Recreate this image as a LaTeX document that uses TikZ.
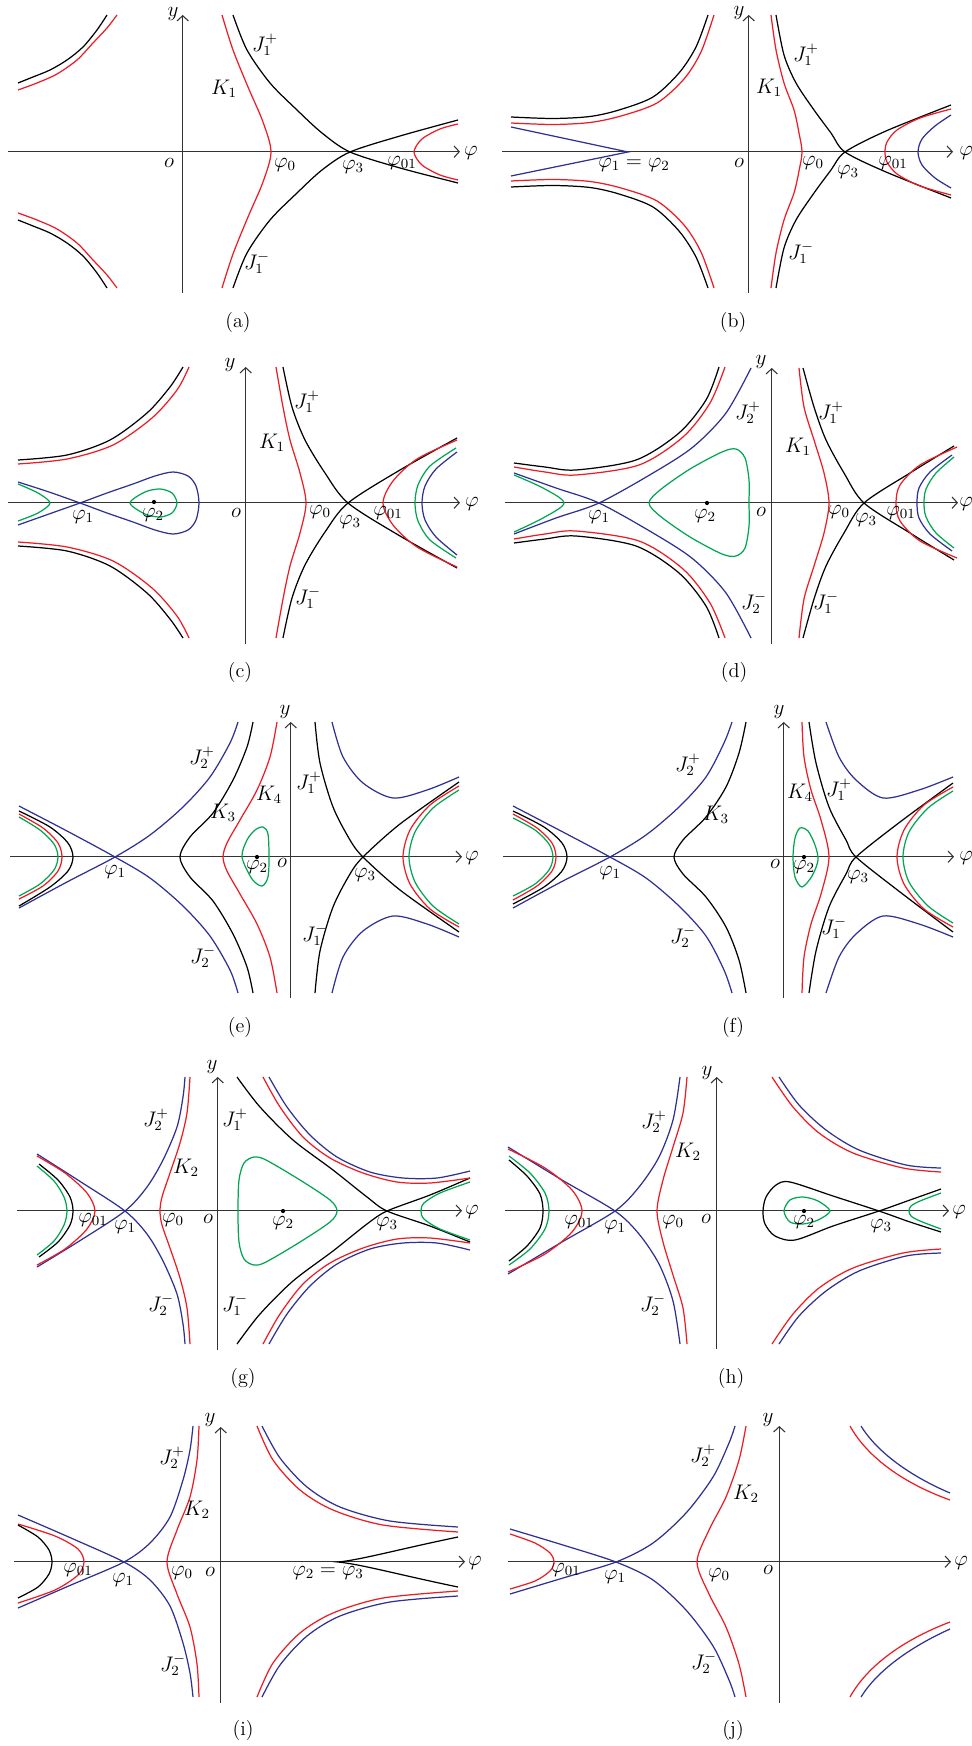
\documentclass[tikz,border=0pt]{standalone}
\usepackage{tikz}
\usepackage{xcolor}
\definecolor{curvered}{HTML}{ED1C24}
\definecolor{curveblue}{HTML}{2E3192}
\definecolor{curvegreen}{HTML}{00A651}
\definecolor{axisgray}{HTML}{333333}
\usetikzlibrary{arrows.meta}

\begin{document}
\begin{tikzpicture}[
        x=0.02cm, y=-0.02cm,
        font=\fontsize{11.5}{14}\selectfont,
        axis_line/.style={
            draw=axisgray,
            line width=0.6pt,
            -{Straight Barb[length=3pt, width=6.5pt, line width=0.6pt]}
        },
        curve_black/.style={draw=black, line width=0.7pt},
        curve_red/.style={draw=curvered, line width=0.7pt},
        curve_blue/.style={draw=curveblue, line width=0.7pt},
        curve_green/.style={draw=curvegreen, line width=0.7pt},
        lbl/.style={inner sep=0pt},
        fixed_pt/.style={circle, fill=black, inner sep=0pt, minimum size=2.4pt}
    ]
    \useasboundingbox (0,0) rectangle (972,1746);

    % Panel (a)
    \draw[axis_line] (8,151.7) -- (460,151.7);
    \draw[axis_line] (182.7,293) -- (182.7,15);
    \draw[curve_black] plot[smooth] coordinates {(18,83) (33,77) (50,70) (67,60) (83,47) (97,30) (107,15)};
    \draw[curve_red] plot[smooth] coordinates {(18,90) (37,83) (57,74) (77,60) (93,43) (107,28) (117,15)};
    \draw[curve_black] plot[smooth] coordinates {(18,220) (33,226) (50,233) (67,243) (83,256) (97,273) (107,288)};
    \draw[curve_red] plot[smooth] coordinates {(18,213) (37,220) (57,229) (77,243) (93,260) (107,275) (117,288)};
    \draw[curve_red] plot[smooth] coordinates {(222,15) (233,50) (248,87) (263,122) (271,152) (263,182) (248,217) (233,254) (222,288)};
    \draw[curve_black] plot[smooth] coordinates {(233,15) (247,50) (270,83) (297,110) (322,133) (350,152) (400,168) (458,183)};
    \draw[curve_black] plot[smooth] coordinates {(233,288) (247,253) (270,220) (297,193) (322,170) (350,152) (400,136) (458,120)};
    \draw[curve_red] plot[smooth] coordinates {(458,124) (440,129) (422,139) (414,152) (422,165) (440,175) (458,180)};
    \node[lbl] (a-y) at (173,14) {$y$};
    \node[lbl] (a-phi) at (471,153) {$\varphi$};
    \node[lbl] (a-o) at (169,163) {$o$};
    \node[lbl] (a-phi0) at (285,165) {$\varphi_0$};
    \node[lbl] (a-phi3) at (353,167) {$\varphi_3$};
    \node[lbl] (a-phi01) at (402,163) {$\varphi_{01}$};
    \node[lbl] (a-K1) at (224,89) {$K_1$};
    \node[lbl] (a-J1p) at (265,45) {$J_1^+$};
    \node[lbl] (a-J1m) at (257,263) {$J_1^-$};
    \node[lbl] (a-tag) at (238,322) {(a)};

    % Panel (b)
    \draw[axis_line] (502,151.7) -- (953,151.7);
    \draw[axis_line] (748.7,293) -- (748.7,15);
    \draw[curve_black] plot[smooth] coordinates {(511,117) (553,118.5) (590,116.5) (619,110) (653,97) (679,73) (696,47) (708,15)};
    \draw[curve_red] plot[smooth] coordinates {(511,123) (553,124.5) (590,122.5) (621,116) (657,103) (684,79) (701,52) (714,15)};
    \draw[curve_black] plot[smooth] coordinates {(511,187) (553,185.5) (590,187.5) (619,194) (653,207) (679,231) (696,257) (708,288)};
    \draw[curve_red] plot[smooth] coordinates {(511,181) (553,179.5) (590,181.5) (621,188) (657,201) (684,225) (701,252) (714,288)};
    \draw[curve_blue] (511,127) -- (628,152) -- (511,176);
    \draw[curve_red] plot[smooth] coordinates {(771,15) (776,50) (784,83) (794,110) (799,133) (802,152) (799,171) (794,193) (784,220) (776,253) (771,288)};
    \draw[curve_black] plot[smooth] coordinates {(776,15) (784,55) (796,83) (814,110) (831,133) (845,152) (886,172) (951,198)};
    \draw[curve_black] plot[smooth] coordinates {(776,288) (784,248) (796,220) (814,193) (831,170) (845,152) (886,131) (951,105)};
    \draw[curve_red] plot[smooth] coordinates {(951,109) (920,118) (897,130) (887,142) (885,152) (887,162) (897,174) (920,186) (951,195)};
    \draw[curve_blue] plot[smooth] coordinates {(951,115) (935,126) (922,139) (918,152) (922,165) (935,178) (951,188)};
    \node[lbl] (b-y) at (739,13) {$y$};
    \node[lbl] (b-phi) at (966,153) {$\varphi$};
    \node[lbl] (b-o) at (739,163) {$o$};
    \node[lbl] (b-phi0) at (813,163) {$\varphi_0$};
    \node[lbl] (b-phi3) at (848,172) {$\varphi_3$};
    \node[lbl] (b-phi01) at (893,163) {$\varphi_{01}$};
    \node[lbl] (b-K1) at (769,88) {$K_1$};
    \node[lbl] (b-J1p) at (806,55) {$J_1^+$};
    \node[lbl] (b-J1m) at (801,253) {$J_1^-$};
    \node[lbl] (b-phi12) at (634,165) {$\varphi_1 = \varphi_2$};
    \node[lbl] (b-tag) at (733,322) {(b)};

    % Panel (c)
    \draw[axis_line] (8,502.7) -- (460,502.7);
    \draw[axis_line] (245.7,644) -- (245.7,367);
    \draw[curve_black] plot[smooth] coordinates {(18,460) (67,455) (110,440) (147,413) (170,387) (183,367)};
    \draw[curve_red] plot[smooth] coordinates {(18,464) (67,459) (113,445) (152,418) (177,390) (189,367)};
    \draw[curve_black] plot[smooth] coordinates {(18,546) (67,551) (110,566) (147,593) (170,619) (183,638)};
    \draw[curve_red] plot[smooth] coordinates {(18,542) (67,547) (113,561) (152,588) (177,616) (189,638)};
    \draw[curve_blue] plot[smooth] coordinates {(18,482) (49,492) (80,503) (107,513) (133,522) (155,530) (173,534) (188,530) (196,520) (199,503) (196,486) (188,476) (173,472) (155,476) (133,484) (107,493) (80,503) (49,514) (18,525)};
    \draw[curve_green] plot[smooth] coordinates {(18,484) (38,493) (50,503) (38,513) (18,521)};
    \draw[curve_green] plot[smooth cycle] coordinates {(130,503) (145,492) (160,489) (172,493) (177,503) (172,513) (160,517) (145,514)};
    \node[fixed_pt] (c-pt2) at (154,502) {};
    \draw[curve_red] plot[smooth] coordinates {(276,367) (283,407) (290,440) (300,473) (306,503) (300,533) (290,566) (283,599) (276,638)};
    \draw[curve_black] plot[smooth] coordinates {(283,367) (292,407) (305,440) (325,473) (348,503) (400,536) (457,568)};
    \draw[curve_black] plot[smooth] coordinates {(283,638) (292,598) (305,565) (325,532) (348,503) (400,470) (457,438)};
    \draw[curve_red] plot[smooth] coordinates {(457,440) (417,459) (393,481) (383,503) (393,525) (417,547) (457,567)};
    \draw[curve_green] plot[smooth] coordinates {(456,448) (430,466) (418,485) (415,503) (418,521) (430,540) (456,558)};
    \draw[curve_blue] plot[smooth] coordinates {(457,452) (436,469) (425,486) (422,503) (425,520) (436,537) (457,555)};
    \node[lbl] (c-y) at (230,365) {$y$};
    \node[lbl] (c-phi) at (472,504) {$\varphi$};
    \node[lbl] (c-o) at (236,513) {$o$};
    \node[lbl] (c-J1p) at (307,402) {$J_1^+$};
    \node[lbl] (c-K1) at (272,443) {$K_1$};
    \node[lbl] (c-J1m) at (308,598) {$J_1^-$};
    \node[lbl] (c-phi0) at (320,512) {$\varphi_0$};
    \node[lbl] (c-phi3) at (350,522) {$\varphi_3$};
    \node[lbl] (c-phi01) at (388,513) {$\varphi_{01}$};
    \node[lbl] (c-phi1) at (83,517) {$\varphi_1$};
    \node[lbl] (c-phi2) at (153,515) {$\varphi_2$};
    \node[lbl] (c-tag) at (240,672) {(c)};

    % Panel (d)
    \draw[axis_line] (505,502.7) -- (958,502.7);
    \draw[axis_line] (771.7,644) -- (771.7,368);
    \draw[curve_black] plot[smooth] coordinates {(514,463) (545,467) (576,470) (636,460) (679,433) (706,400) (719,367)};
    \draw[curve_red] plot[smooth] coordinates {(514,467) (545,472) (576,475) (639,465) (683,437) (710,403) (725,367)};
    \draw[curve_black] plot[smooth] coordinates {(514,543) (545,539) (576,536) (636,546) (679,573) (706,606) (719,638)};
    \draw[curve_red] plot[smooth] coordinates {(514,539) (545,534) (576,531) (639,541) (683,569) (710,603) (725,638)};
    \draw[curve_blue] plot[smooth] coordinates {(514,473) (556,488) (599,503) (653,533) (693,559) (726,593) (751,638)};
    \draw[curve_blue] plot[smooth] coordinates {(514,534) (556,518) (599,503) (653,473) (693,447) (726,413) (751,368)};
    \draw[curve_green] plot[smooth] coordinates {(514,475) (543,488) (564,503) (543,518) (514,532)};
    \draw[curve_green] plot[smooth cycle] coordinates {(649,503) (660,490) (690,469) (722,452) (736,449) (745,458) (749,480) (749,503) (749,526) (745,548) (736,556) (722,554) (690,537) (660,516)};
    \node[fixed_pt] (d-pt2) at (707,503) {};
    \draw[curve_red] plot[smooth] coordinates {(799,368) (804,407) (814,440) (824,473) (829,503) (824,533) (814,566) (804,599) (799,638)};
    \draw[curve_black] plot[smooth] coordinates {(803,368) (814,407) (826,440) (844,473) (864,503) (910,533) (954,560)};
    \draw[curve_black] plot[smooth] coordinates {(803,638) (814,599) (826,566) (844,533) (864,503) (910,473) (954,446)};
    \draw[curve_red] plot[smooth] coordinates {(957,447) (920,465) (900,485) (896,503) (900,521) (920,541) (957,558)};
    \draw[curve_blue] plot[smooth] coordinates {(952,455) (930,472) (919,488) (917,503) (919,518) (930,534) (952,551)};
    \draw[curve_green] plot[smooth] coordinates {(954,457) (936,473) (926,489) (924,503) (926,517) (936,533) (954,548)};
    \node[lbl] (d-y) at (761,362) {$y$};
    \node[lbl] (d-phi) at (966,504) {$\varphi$};
    \node[lbl] (d-o) at (761,512) {$o$};
    \node[lbl] (d-J2p) at (748,413) {$J_2^+$};
    \node[lbl] (d-J1p) at (831,413) {$J_1^+$};
    \node[lbl] (d-K1) at (798,447) {$K_1$};
    \node[lbl] (d-J2m) at (754,603) {$J_2^-$};
    \node[lbl] (d-J1m) at (826,603) {$J_1^-$};
    \node[lbl] (d-phi1) at (599,517) {$\varphi_1$};
    \node[lbl] (d-phi2) at (705,516) {$\varphi_2$};
    \node[lbl] (d-phi0) at (839,512) {$\varphi_0$};
    \node[lbl] (d-phi3) at (866,520) {$\varphi_3$};
    \node[lbl] (d-phi01) at (901,513) {$\varphi_{01}$};
    \node[lbl] (d-tag) at (734,672) {(d)};

    % Panel (e)
    \draw[axis_line] (10,856.7) -- (462,856.7);
    \draw[axis_line] (290.7,998) -- (290.7,722);
    \draw[curve_blue] plot[smooth] coordinates {(19,806) (67,831) (115,857) (150,878) (183,906) (210,936) (230,970) (238,993)};
    \draw[curve_blue] plot[smooth] coordinates {(19,908) (67,882) (115,857) (150,835) (183,807) (210,777) (230,743) (238,722)};
    \draw[curve_black] plot[smooth] coordinates {(19,811) (50,827) (68,843) (73,857) (68,871) (50,887) (19,906)};
    \draw[curve_red] plot[smooth] coordinates {(19,814) (43,828) (58,843) (62,857) (58,871) (43,886) (19,899)};
    \draw[curve_green] plot[smooth] coordinates {(19,817) (40,830) (54,844) (58,857) (54,870) (40,884) (19,896)};
    \draw[curve_black] plot[smooth] coordinates {(253,722) (247,747) (233,780) (213,813) (190,837) (180,857) (190,877) (213,901) (233,934) (247,967) (253,993)};
    \draw[curve_red] plot[smooth] coordinates {(277,722) (270,757) (257,790) (240,820) (227,843) (223,857) (227,871) (240,894) (257,924) (270,957) (277,993)};
    \draw[curve_green] plot[smooth cycle] coordinates {(242,857) (247,840) (255,830) (263,827) (268,834) (269,857) (268,877) (262,886) (252,879)};
    \node[fixed_pt] (e-pt2) at (257,857) {};
    \draw[curve_black] plot[smooth] coordinates {(315,722) (320,763) (333,807) (350,840) (363,857) (400,890) (459,932)};
    \draw[curve_black] plot[smooth] coordinates {(315,993) (320,951) (333,907) (350,874) (363,857) (400,824) (459,782)};
    \draw[curve_blue] plot[smooth] coordinates {(332,722) (343,757) (363,783) (393,798) (427,790) (459,777)};
    \draw[curve_blue] plot[smooth] coordinates {(332,993) (343,957) (363,931) (393,916) (427,924) (459,937)};
    \draw[curve_red] plot[smooth] coordinates {(459,786) (430,805) (410,830) (403,857) (410,884) (430,909) (459,927)};
    \draw[curve_green] plot[smooth] coordinates {(459,790) (433,808) (415,832) (409,857) (415,882) (433,906) (459,924)};
    \node[lbl] (e-y) at (285,712) {$y$};
    \node[lbl] (e-phi) at (472,858) {$\varphi$};
    \node[lbl] (e-o) at (282,863) {$o$};
    \node[lbl] (e-J2p) at (202,758) {$J_2^+$};
    \node[lbl] (e-K3) at (223,813) {$K_3$};
    \node[lbl] (e-K4) at (269,795) {$K_4$};
    \node[lbl] (e-J1p) at (309,783) {$J_1^+$};
    \node[lbl] (e-phi1) at (115,872) {$\varphi_1$};
    \node[lbl] (e-phi2) at (257,867) {$\varphi_2$};
    \node[lbl] (e-phi3) at (365,875) {$\varphi_3$};
    \node[lbl] (e-J2m) at (203,957) {$J_2^-$};
    \node[lbl] (e-J1m) at (315,935) {$J_1^-$};
    \node[lbl] (e-tag) at (240,1027) {(e)};

    % Panel (f)
    \draw[axis_line] (503,856.7) -- (954,856.7);
    \draw[axis_line] (783.7,998) -- (783.7,722);
    \draw[curve_blue] plot[smooth] coordinates {(513,806) (561,831) (610,857) (646,878) (679,906) (706,936) (724,970) (732,993)};
    \draw[curve_blue] plot[smooth] coordinates {(513,908) (561,882) (610,857) (646,835) (679,807) (706,777) (724,743) (732,722)};
    \draw[curve_black] plot[smooth] coordinates {(513,811) (544,827) (562,843) (567,857) (562,871) (544,887) (513,904)};
    \draw[curve_red] plot[smooth] coordinates {(513,814) (537,828) (552,843) (556,857) (552,871) (537,886) (513,900)};
    \draw[curve_green] plot[smooth] coordinates {(513,818) (535,830) (549,844) (553,857) (549,870) (535,884) (513,896)};
    \draw[curve_black] plot[smooth] coordinates {(746,722) (739,753) (726,787) (706,817) (683,840) (674,857) (683,874) (706,897) (726,927) (739,960) (746,993)};
    \draw[curve_green] plot[smooth cycle] coordinates {(793,857) (795,838) (800,828) (808,831) (815,845) (818,860) (812,876) (802,887) (795,877)};
    \node[fixed_pt] (f-pt2) at (804,857) {};
    \draw[curve_red] plot[smooth] coordinates {(802,722) (804,757) (811,790) (821,820) (829,857) (821,894) (811,924) (804,957) (802,993)};
    \draw[curve_black] plot[smooth] coordinates {(809,722) (816,763) (829,807) (846,840) (856,857) (900,892) (953,932)};
    \draw[curve_black] plot[smooth] coordinates {(809,993) (816,951) (829,907) (846,874) (856,857) (900,822) (953,783)};
    \draw[curve_blue] plot[smooth] coordinates {(826,722) (839,757) (856,780) (883,798) (919,790) (953,777)};
    \draw[curve_blue] plot[smooth] coordinates {(826,993) (839,957) (856,934) (883,916) (919,924) (953,937)};
    \draw[curve_red] plot[smooth] coordinates {(953,787) (924,805) (904,830) (897,857) (904,884) (924,909) (953,927)};
    \draw[curve_green] plot[smooth] coordinates {(953,791) (928,808) (909,832) (903,857) (909,882) (928,906) (953,923)};
    \node[lbl] (f-y) at (779,712) {$y$};
    \node[lbl] (f-phi) at (966,858) {$\varphi$};
    \node[lbl] (f-o) at (775,864) {$o$};
    \node[lbl] (f-J2p) at (688,765) {$J_2^+$};
    \node[lbl] (f-K3) at (716,815) {$K_3$};
    \node[lbl] (f-K4) at (800,793) {$K_4$};
    \node[lbl] (f-J1p) at (839,790) {$J_1^+$};
    \node[lbl] (f-phi1) at (610,873) {$\varphi_1$};
    \node[lbl] (f-phi2) at (804,867) {$\varphi_2$};
    \node[lbl] (f-phi3) at (858,877) {$\varphi_3$};
    \node[lbl] (f-J2m) at (683,937) {$J_2^-$};
    \node[lbl] (f-J1m) at (834,928) {$J_1^-$};
    \node[lbl] (f-tag) at (733,1027) {(f)};

    % Panel (g)
    \draw[axis_line] (17,1210.7) -- (462,1210.7);
    \draw[axis_line] (217.7,1350) -- (217.7,1077);
    \draw[curve_blue] plot[smooth] coordinates {(37,1154) (81,1182) (125,1211) (147,1234) (163,1261) (177,1294) (183,1324) (185,1344)};
    \draw[curve_blue] plot[smooth] coordinates {(37,1267) (81,1240) (125,1211) (147,1187) (163,1160) (177,1127) (183,1097) (185,1077)};
    \draw[curve_red] plot[smooth] coordinates {(190,1077) (187,1113) (180,1143) (170,1173) (162,1197) (160,1211) (162,1225) (170,1248) (180,1278) (187,1308) (190,1344)};
    \draw[curve_red] plot[smooth] coordinates {(37,1156) (65,1173) (87,1193) (95,1211) (87,1229) (65,1249) (37,1265)};
    \draw[curve_black] plot[smooth] coordinates {(39,1164) (58,1180) (70,1197) (73,1211) (70,1225) (58,1242) (39,1257)};
    \draw[curve_green] plot[smooth] coordinates {(37,1166) (54,1181) (64,1197) (67,1211) (64,1225) (54,1241) (37,1255)};
    \draw[curve_black] plot[smooth] coordinates {(237,1077) (260,1107) (293,1140) (333,1170) (367,1197) (387,1211) (430,1226) (470,1242)};
    \draw[curve_black] plot[smooth] coordinates {(237,1344) (260,1314) (293,1281) (333,1251) (367,1224) (387,1211) (430,1195) (470,1178)};
    \draw[curve_green] plot[smooth cycle] coordinates {(238,1211) (239,1180) (244,1163) (254,1157) (266,1160) (300,1180) (330,1200) (337,1211) (330,1222) (300,1242) (266,1262) (254,1265) (244,1259) (239,1242)};
    \node[fixed_pt] (g-pt2) at (283,1211) {};
    \draw[curve_green] plot[smooth] coordinates {(470,1182) (440,1193) (424,1203) (421,1211) (424,1219) (440,1229) (470,1240)};
    \draw[curve_red] plot[smooth] coordinates {(263,1077) (280,1107) (303,1137) (330,1158) (363,1173) (397,1182) (430,1183) (470,1178)};
    \draw[curve_blue] plot[smooth] coordinates {(269,1077) (287,1107) (310,1135) (337,1157) (370,1172) (403,1178) (437,1178) (470,1171)};
    \draw[curve_red] plot[smooth] coordinates {(263,1344) (280,1314) (303,1284) (330,1263) (363,1248) (397,1239) (430,1238) (470,1243)};
    \draw[curve_blue] plot[smooth] coordinates {(269,1344) (287,1314) (310,1286) (337,1264) (370,1249) (403,1243) (437,1243) (470,1250)};
    \node[lbl] (g-y) at (212,1067) {$y$};
    \node[lbl] (g-phi) at (472,1212) {$\varphi$};
    \node[lbl] (g-o) at (208,1219) {$o$};
    \node[lbl] (g-J2p) at (156,1120) {$J_2^+$};
    \node[lbl] (g-K2) at (186,1168) {$K_2$};
    \node[lbl] (g-J1p) at (235,1120) {$J_1^+$};
    \node[lbl] (g-phi01) at (93,1220) {$\varphi_{01}$};
    \node[lbl] (g-phi1) at (125,1227) {$\varphi_1$};
    \node[lbl] (g-phi0) at (173,1220) {$\varphi_0$};
    \node[lbl] (g-phi2) at (283,1223) {$\varphi_2$};
    \node[lbl] (g-phi3) at (387,1224) {$\varphi_3$};
    \node[lbl] (g-J2m) at (161,1305) {$J_2^-$};
    \node[lbl] (g-J1m) at (235,1305) {$J_1^-$};
    \node[lbl] (g-tag) at (243,1378) {(g)};

    % Panel (h)
    \draw[axis_line] (505,1210.7) -- (949,1210.7);
    \draw[axis_line] (716.7,1349) -- (716.7,1077);
    \draw[curve_blue] plot[smooth] coordinates {(508,1147) (562,1180) (615,1211) (639,1234) (659,1264) (673,1301) (680,1344)};
    \draw[curve_blue] plot[smooth] coordinates {(508,1274) (562,1242) (615,1211) (639,1187) (659,1157) (673,1120) (680,1077)};
    \draw[curve_red] plot[smooth] coordinates {(687,1077) (683,1113) (673,1147) (663,1180) (657,1211) (663,1242) (673,1275) (683,1308) (687,1344)};
    \draw[curve_red] plot[smooth] coordinates {(508,1149) (545,1168) (572,1190) (582,1211) (572,1232) (545,1254) (508,1272)};
    \draw[curve_green] plot[smooth] coordinates {(509,1156) (530,1173) (545,1193) (549,1211) (545,1229) (530,1249) (509,1265)};
    \draw[curve_black] plot[smooth] coordinates {(509,1160) (527,1176) (540,1194) (543,1211) (540,1228) (527,1246) (509,1261)};
    \draw[curve_black] plot[smooth] coordinates {(941,1189) (910,1200) (879,1211) (833,1226) (795,1240) (775,1236) (765,1224) (763,1211) (766,1197) (776,1185) (790,1182) (833,1196) (879,1211) (910,1222) (941,1232)};
    \draw[curve_green] plot[smooth cycle] coordinates {(784,1211) (790,1200) (803,1197) (818,1201) (830,1211) (818,1220) (803,1224) (790,1222)};
    \node[fixed_pt] (h-pt2) at (804,1211) {};
    \draw[curve_green] plot[smooth] coordinates {(941,1193) (920,1201) (911,1206) (909,1211) (911,1216) (920,1221) (941,1229)};
    \draw[curve_red] plot[smooth] coordinates {(772,1077) (793,1107) (819,1133) (853,1153) (903,1168) (941,1172)};
    \draw[curve_blue] plot[smooth] coordinates {(779,1077) (799,1105) (826,1130) (859,1150) (906,1165) (941,1168)};
    \draw[curve_red] plot[smooth] coordinates {(772,1344) (793,1314) (819,1288) (853,1268) (903,1253) (941,1249)};
    \draw[curve_blue] plot[smooth] coordinates {(779,1344) (799,1316) (826,1291) (859,1271) (906,1256) (941,1253)};
    \node[lbl] (h-y) at (707,1073) {$y$};
    \node[lbl] (h-phi) at (959,1212) {$\varphi$};
    \node[lbl] (h-o) at (706,1219) {$o$};
    \node[lbl] (h-J2p) at (654,1122) {$J_2^+$};
    \node[lbl] (h-K2) at (688,1152) {$K_2$};
    \node[lbl] (h-phi01) at (579,1222) {$\varphi_{01}$};
    \node[lbl] (h-phi1) at (615,1227) {$\varphi_1$};
    \node[lbl] (h-phi0) at (673,1222) {$\varphi_0$};
    \node[lbl] (h-phi2) at (804,1222) {$\varphi_2$};
    \node[lbl] (h-phi3) at (881,1226) {$\varphi_3$};
    \node[lbl] (h-J2m) at (653,1305) {$J_2^-$};
    \node[lbl] (h-tag) at (731,1378) {(h)};

    % Panel (i)
    \draw[axis_line] (14,1561.7) -- (465,1561.7);
    \draw[axis_line] (220.7,1703) -- (220.7,1427);
    \draw[curve_blue] plot[smooth] coordinates {(18,1515) (71,1538) (124,1562) (150,1580) (170,1606) (183,1643) (190,1673) (193,1697)};
    \draw[curve_blue] plot[smooth] coordinates {(18,1608) (71,1585) (124,1562) (150,1543) (170,1517) (183,1480) (190,1450) (193,1426)};
    \draw[curve_red] plot[smooth] coordinates {(199,1426) (197,1460) (190,1497) (177,1530) (167,1562) (177,1594) (190,1627) (197,1664) (199,1697)};
    \draw[curve_red] plot[smooth] coordinates {(18,1524) (55,1536) (78,1549) (84,1562) (78,1575) (55,1590) (18,1603)};
    \draw[curve_black] plot[smooth] coordinates {(18,1525) (38,1537) (49,1550) (52,1562) (49,1574) (38,1587) (18,1598)};
    \draw[curve_black] (458,1537) .. controls (400,1549) and (360,1560) .. (338,1562) .. controls (360,1564) and (400,1575) .. (458,1587);
    \draw[curve_red] plot[smooth] coordinates {(257,1426) (273,1460) (300,1490) (333,1510) (383,1525) (458,1532)};
    \draw[curve_blue] plot[smooth] coordinates {(262,1426) (280,1458) (307,1487) (340,1507) (390,1521) (458,1527)};
    \draw[curve_red] plot[smooth] coordinates {(257,1697) (273,1663) (300,1633) (333,1613) (383,1598) (458,1591)};
    \draw[curve_blue] plot[smooth] coordinates {(262,1697) (280,1665) (307,1636) (340,1616) (390,1602) (458,1596)};
    \node[lbl] (i-y) at (210,1420) {$y$};
    \node[lbl] (i-phi) at (475,1563) {$\varphi$};
    \node[lbl] (i-o) at (210,1572) {$o$};
    \node[lbl] (i-J2p) at (172,1458) {$J_2^+$};
    \node[lbl] (i-K2) at (197,1510) {$K_2$};
    \node[lbl] (i-phi01) at (78,1570) {$\varphi_{01}$};
    \node[lbl] (i-phi1) at (123,1580) {$\varphi_1$};
    \node[lbl] (i-phi0) at (182,1573) {$\varphi_0$};
    \node[lbl] (i-phi23) at (328,1573) {$\varphi_2 = \varphi_3$};
    \node[lbl] (i-J2m) at (173,1665) {$J_2^-$};
    \node[lbl] (i-tag) at (243,1730) {(i)};

    % Panel (j)
    \draw[axis_line] (508,1561.7) -- (951,1561.7);
    \draw[axis_line] (779.3,1703) -- (779.3,1426);
    \draw[curve_blue] plot[smooth] coordinates {(510,1529) (563,1545) (616,1562) (653,1580) (686,1610) (713,1646) (729,1680) (735,1697)};
    \draw[curve_blue] plot[smooth] coordinates {(510,1594) (563,1578) (616,1562) (653,1543) (686,1513) (713,1477) (729,1443) (735,1426)};
    \draw[curve_red] plot[smooth] coordinates {(746,1426) (739,1460) (726,1497) (709,1530) (697,1562) (709,1594) (726,1627) (739,1664) (746,1697)};
    \draw[curve_red] plot[smooth] coordinates {(510,1534) (535,1543) (550,1553) (554,1562) (550,1571) (535,1581) (510,1589)};
    \draw[curve_red] (850,1426) .. controls (866,1455) and (900,1482) .. (950,1500);
    \draw[curve_blue] (861,1426) .. controls (877,1452) and (910,1476) .. (950,1493);
    \draw[curve_red] (850,1697) .. controls (866,1668) and (900,1641) .. (950,1622);
    \draw[curve_blue] (861,1697) .. controls (877,1671) and (910,1647) .. (950,1629);
    \node[lbl] (j-y) at (768,1420) {$y$};
    \node[lbl] (j-phi) at (961,1563) {$\varphi$};
    \node[lbl] (j-o) at (768,1570) {$o$};
    \node[lbl] (j-J2p) at (703,1456) {$J_2^+$};
    \node[lbl] (j-K2) at (746,1494) {$K_2$};
    \node[lbl] (j-phi01) at (566,1570) {$\varphi_{01}$};
    \node[lbl] (j-phi1) at (615,1577) {$\varphi_1$};
    \node[lbl] (j-phi0) at (719,1575) {$\varphi_0$};
    \node[lbl] (j-J2m) at (704,1663) {$J_2^-$};
    \node[lbl] (j-tag) at (733,1730) {(j)};
\end{tikzpicture}
\end{document}
